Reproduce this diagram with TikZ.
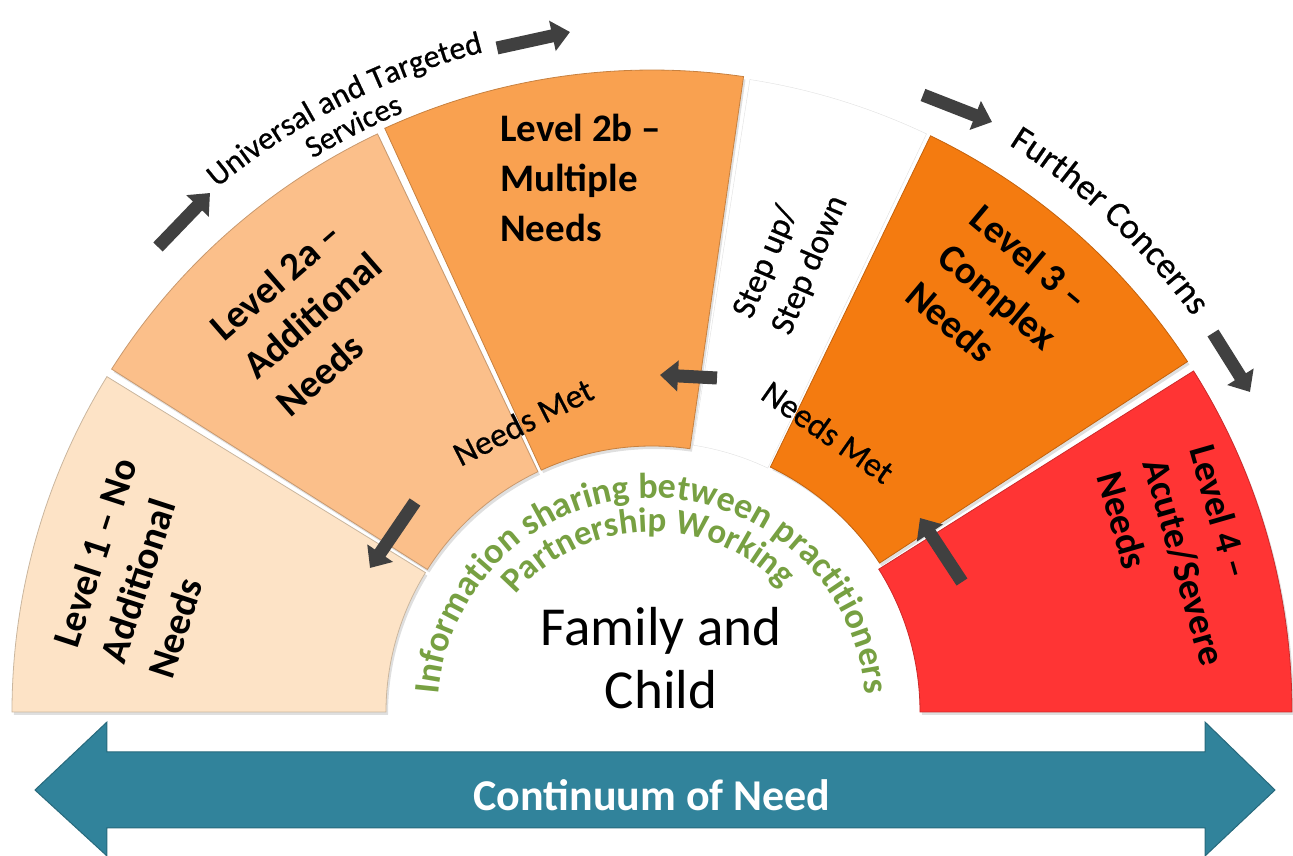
\documentclass[tikz,border=0pt]{standalone}
\usepackage{fontspec}
\setmainfont{Carlito}
\newfontfamily\medfont{Carlito}[FakeBold=0.6]
\usetikzlibrary{arrows.meta,decorations.text,shadows}

\definecolor{levelone}{RGB}{253,227,198}
\definecolor{leveltwoa}{RGB}{251,191,138}
\definecolor{leveltwob}{RGB}{249,161,80}
\definecolor{levelthree}{RGB}{244,123,16}
\definecolor{levelfour}{RGB}{255,52,52}
\definecolor{needteal}{RGB}{49,131,155}
\definecolor{sharegreen}{RGB}{119,160,66}
\definecolor{arrowgrey}{RGB}{64,64,64}

\begin{document}
\begin{tikzpicture}[x=1pt,y=1pt,
    sector/.style={fill=#1,draw=#1!80!black,line width=0.8pt,
      drop shadow={shadow xshift=2pt,shadow yshift=-3pt,opacity=0.25}},
    level/.style={font=\bfseries\fontsize{39}{50}\selectfont,align=left,inner sep=0pt},
    remark/.style={font=\medfont\fontsize{34}{42}\selectfont,align=left,inner sep=0pt},
    move/.style={draw=arrowgrey,line width=13pt,-{Triangle[length=18pt,width=30pt]}}]
  \useasboundingbox (-652,-144) rectangle (641,712);
  % sectors round the family
  \draw[sector=levelone] (180:640) arc[start angle=180,end angle=148.4,radius=640]
    -- (148.4:266) arc[start angle=148.4,end angle=180,radius=266] -- cycle;
  \draw[sector=leveltwoa] (147.6:640) arc[start angle=147.6,end angle=115.4,radius=640]
    -- (115.4:266) arc[start angle=115.4,end angle=147.6,radius=266] -- cycle;
  \draw[sector=leveltwob] (114.6:642) arc[start angle=114.6,end angle=81.8,radius=642]
    -- (81.8:266) arc[start angle=81.8,end angle=114.6,radius=266] -- cycle;
  \draw[fill=white,draw=black!12] (81.2:640) arc[start angle=81.2,end angle=64.6,radius=640]
    -- (64.6:270) arc[start angle=64.6,end angle=81.2,radius=270] -- cycle;
  \draw[sector=levelthree] (64.2:640) arc[start angle=64.2,end angle=33.2,radius=640]
    -- (33.2:272) arc[start angle=33.2,end angle=64.2,radius=272] -- cycle;
  \draw[sector=levelfour] (32.2:640) arc[start angle=32.2,end angle=0,radius=640]
    -- (0:268) arc[start angle=0,end angle=32.2,radius=268] -- cycle;

  % continuum arrow
  \draw[fill=needteal,draw=needteal!80!black,line width=1pt]
    (-617,-78) -- (-545,-10) -- (-545,-40) -- (553,-40) -- (553,-10) -- (623,-78)
    -- (553,-144) -- (553,-116) -- (-545,-116) -- (-545,-144) -- cycle;

  \path
    (-510,144) node[level,rotate=72] (one) {Level 1 – No\\Additional\\Needs}
    (-340,397) node[level,rotate=41] (twoa) {Level 2a –\\Additional\\Needs}
    (-152,598) node[level,anchor=north west] (twob) {Level 2b –\\Multiple\\Needs}
    (346,416) node[level,rotate=-40] (three) {Level 3 –\\Complex\\Needs}
    (533,150) node[level,rotate=-74,font=\bfseries\fontsize{38}{48}\selectfont] (four) {Level 4 –\\Acute/Severe\\Needs}
    (139,455) node[remark,rotate=67] (step) {Step up/\\Step down}
    (-129,290) node[remark,rotate=27] (metleft) {Needs Met}
    (176,280) node[remark,rotate=-35] (metright) {Needs Met}
    (9,54) node[font=\fontsize{55}{63}\selectfont,align=center] (family) {Family and\\Child}
    (0,-83) node[font=\bfseries\fontsize{44}{50}\selectfont,text=white] (need) {Continuum of Need};

  % curved texts
  \path[decorate,decoration={text along path,text align=center,
      text={|\medfont\fontsize{32}{34}\selectfont|Universal and Targeted}}]
    (140:681) arc[start angle=140,end angle=94,radius=681];
  \path[decorate,decoration={text along path,text align=center,
      text={|\medfont\fontsize{31}{32}\selectfont|Services}}]
    (130:649) arc[start angle=130,end angle=104,radius=649];
  \path[decorate,decoration={text along path,text align=center,
      text={|\medfont\fontsize{36}{36}\selectfont|Further Concerns}}]
    (70:670) arc[start angle=70,end angle=24,radius=670];
  \path[decorate,decoration={text along path,text align=center,
      text={|\bfseries\fontsize{36}{36}\selectfont\color{sharegreen}|Information sharing between practitioners}}]
    (180:214) arc[start angle=180,end angle=0,radius=214];
  \path[decorate,decoration={text along path,text align=center,
      text={|\bfseries\fontsize{35}{36}\selectfont\color{sharegreen}|Partnership Working}}]
    (181.5:180) arc[start angle=181.5,end angle=1.5,radius=180];

  % grey arrows
  \coordinate (ut0) at (-494,465); \coordinate (ut1) at (-442,519);
  \coordinate (ut2) at (-155,664); \coordinate (ut3) at (-82,680);
  \coordinate (fc0) at (271,617);  \coordinate (fc1) at (340,590);
  \coordinate (fc2) at (561,379);  \coordinate (fc3) at (598,320);
  \coordinate (up0) at (65,334);   \coordinate (up1) at (8,337);
  \coordinate (dn0) at (-237,210); \coordinate (dn1) at (-282,144);
  \coordinate (bk0) at (310,130);  \coordinate (bk1) at (268,194);
  \begin{scope}[move]
    \draw (ut0) -- (ut1);
    \draw (ut2) -- (ut3);
    \draw (fc0) -- (fc1);
    \draw (fc2) -- (fc3);
    \draw (up0) -- (up1);
    \draw (dn0) -- (dn1);
    \draw (bk0) -- (bk1);
  \end{scope}
\end{tikzpicture}
\end{document}
